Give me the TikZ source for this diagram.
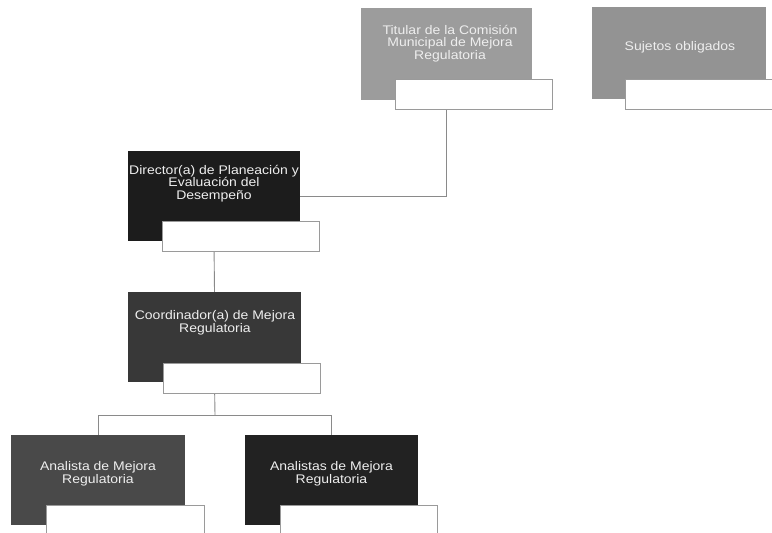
\documentclass[tikz,border=0pt]{standalone}
\usepackage{graphicx}
\usepackage{fontspec}
\setmainfont{Liberation Sans}
\definecolor{cTit}{HTML}{9C9C9C}
\definecolor{cSuj}{HTML}{939393}
\definecolor{cDir}{HTML}{1C1C1C}
\definecolor{cCoo}{HTML}{383838}
\definecolor{cAn1}{HTML}{494949}
\definecolor{cAn2}{HTML}{222222}
\definecolor{cLine}{HTML}{8A8A8A}
\definecolor{cSub}{HTML}{9A9A9A}
\definecolor{cTxt}{HTML}{EEEEEE}
\newcommand\lbltext[1]{\scalebox{1.12}[1]{\begin{tabular}{@{}c@{}}#1\end{tabular}}}
\begin{document}
\begin{tikzpicture}[x=1pt,y=-1pt,
  mainbox/.style={draw=none,rectangle,inner sep=0pt,minimum height=90pt},
  subbox/.style={draw=cSub,line width=0.9pt,fill=white,rectangle,inner sep=0pt,minimum width=157pt,minimum height=30pt},
  lbl/.style={text=cTxt,inner sep=0pt,font=\fontsize{12.5}{11.8}\selectfont},
  conn/.style={draw=cLine,line width=0.9pt}]
\clip (0,0) rectangle (772,533);
\fill[white] (0,0) rectangle (772,533);
% main boxes
\node[mainbox,fill=cTit,minimum width=171pt,minimum height=92pt] (t) at (446.5,54) {};
\node[mainbox,fill=cSuj,minimum width=174pt,minimum height=92pt] (s) at (679,53) {};
\node[mainbox,fill=cDir,minimum width=172pt] (d) at (214,196) {};
\node[mainbox,fill=cCoo,minimum width=173pt] (c) at (214.5,337) {};
\node[mainbox,fill=cAn1,minimum width=174pt] (a1) at (98,480) {};
\node[mainbox,fill=cAn2,minimum width=173pt] (a2) at (331.5,480) {};
% connectors
\coordinate (cj) at (215,415);
\draw[conn] (t.south) |- (d.east);
\draw[conn] (d.south) -- (c.north);
\draw[conn] (c.south) -- (cj);
\draw[conn] (a1.north) -- (a1.north |- cj) -- (a2.north |- cj) -- (a2.north);
% sub boxes
\node[subbox] (ts) at (473.5,94) {};
\node[subbox] (ss) at (703.5,94) {};
\node[subbox] (ds) at (240.5,236) {};
\node[subbox] (cs) at (241.5,378) {};
\node[subbox,minimum width=158pt] (a1s) at (125,520) {};
\node[subbox] (a2s) at (358.5,520) {};
% labels
\node[lbl] (tl) at (450,44) {\lbltext{Titular de la Comisión\\Municipal de Mejora\\Regulatoria}};
\node[lbl] (sl) at (680,48) {\lbltext{Sujetos obligados}};
\node[lbl] (dl) at (214,184) {\lbltext{Director(a) de Planeación y\\Evaluación del\\Desempeño}};
\node[lbl] (cl) at (215,323) {\lbltext{Coordinador(a) de Mejora\\Regulatoria}};
\node[lbl] (a1l) at (98,474) {\lbltext{Analista de Mejora\\Regulatoria}};
\node[lbl] (a2l) at (331.5,474) {\lbltext{Analistas de Mejora\\Regulatoria}};
\end{tikzpicture}
\end{document}
